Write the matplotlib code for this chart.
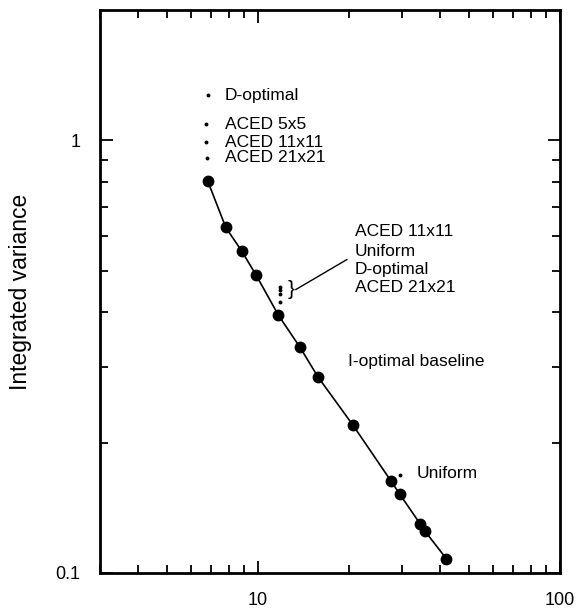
import matplotlib
matplotlib.use("Agg")
import matplotlib.pyplot as plt
from matplotlib.ticker import FixedLocator, NullFormatter, FixedFormatter

plt.rcParams['font.family'] = ['Liberation Sans', 'DejaVu Sans']

# I-optimal baseline curve
n_runs = [6.83, 7.83, 8.85, 9.85, 11.7, 13.8, 15.8, 20.6, 27.6, 29.5, 34.4, 35.7, 42.0]
i_opt_var = [0.804, 0.629, 0.554, 0.489, 0.394, 0.332, 0.284, 0.220, 0.163, 0.152, 0.130, 0.125, 0.108]

# small design points at the top left
top_labels = ["D-optimal", "ACED 5x5", "ACED 11x11", "ACED 21x21"]
top_x = [6.83, 6.75, 6.75, 6.8]
top_y = [1.27, 1.09, 0.99, 0.91]

# cluster near n=12
cluster_labels = ["ACED 11x11", "Uniform", "D-optimal", "ACED 21x21"]
cluster_x = [11.8, 11.8, 11.8, 11.8]
cluster_y = [0.459, 0.450, 0.441, 0.424]
cluster_label_y = [0.616, 0.553, 0.503, 0.457]

# uniform point
uni_x = [29.5]
uni_y = [0.168]

x_ticks = [10, 100]
x_ticklabels = ["10", "100"]
y_ticks = [0.1, 1]
y_ticklabels = ["0.1", "1"]

fig = plt.figure(figsize=(5.84, 6.14), dpi=100)
ax = fig.add_axes([0.171, 0.0668, 0.788, 0.9169])
ax.set_xscale('log')
ax.set_yscale('log')
ax.set_xlim(3, 100)
ax.set_ylim(0.1, 2.0)

ax.plot(n_runs, i_opt_var, '-', color='black', lw=1.2, marker='o', ms=7.5,
        mfc='black', mec='black', zorder=3)

ax.plot(top_x, top_y, 'o', color='black', ms=1.8, ls='none')
for y, t in zip(top_y, top_labels):
    ax.text(7.78, y, t, fontsize=12.5, va='center', ha='left')

ax.plot(cluster_x, cluster_y, 'o', color='black', ms=1.8, ls='none')
ax.text(12.55, 0.452, "}", fontsize=15, va='center', ha='left')
ax.plot([13.36, 19.7], [0.452, 0.530], color='black', lw=1.0)
for y, t in zip(cluster_label_y, cluster_labels):
    ax.text(20.96, y, t, fontsize=12.5, va='center', ha='left')

ax.plot(uni_x, uni_y, 'o', color='black', ms=1.8, ls='none')
ax.text(33.6, 0.170, "Uniform", fontsize=12.5, va='center', ha='left')
ax.text(19.87, 0.308, "I-optimal baseline", fontsize=12.5, va='center', ha='left')

ax.set_ylabel("Integrated variance", fontsize=16.5)
ax.yaxis.set_label_coords(-0.148, 0.5)

ax.xaxis.set_major_locator(FixedLocator(x_ticks))
ax.xaxis.set_major_formatter(FixedFormatter(x_ticklabels))
ax.xaxis.set_minor_locator(FixedLocator([3, 4, 5, 6, 7, 8, 9, 20, 30, 40, 50, 60, 70, 80, 90]))
ax.xaxis.set_minor_formatter(NullFormatter())
ax.yaxis.set_major_locator(FixedLocator(y_ticks))
ax.yaxis.set_major_formatter(FixedFormatter(y_ticklabels))
ax.yaxis.set_minor_locator(FixedLocator([0.2, 0.3, 0.4, 0.5, 0.6, 0.7, 0.8, 0.9]))
ax.yaxis.set_minor_formatter(NullFormatter())

ax.tick_params(which='both', direction='in', top=True, right=True, width=1.3, labelsize=13)
ax.tick_params(which='major', length=9, pad=14)
ax.tick_params(which='minor', length=6)
for s in ax.spines.values():
    s.set_linewidth(2)

fig.savefig("out.png", dpi=100)
